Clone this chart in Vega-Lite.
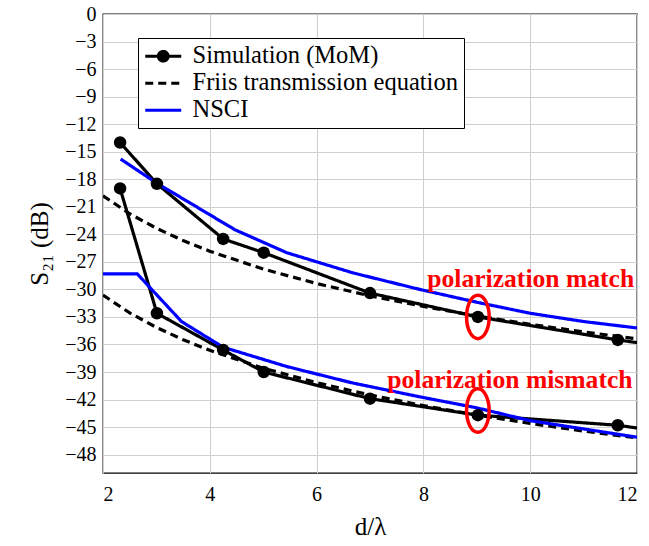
{
  "$schema": "https://vega.github.io/schema/vega-lite/v6.json",
  "width": 534,
  "height": 459,
  "autosize": {"type": "none"},
  "padding": {"left": 103, "top": 14, "right": 12, "bottom": 73},
  "background": "white",
  "config": {
    "view": {"stroke": "black", "strokeWidth": 1.3},
    "font": "Liberation Serif",
    "axis": {
      "grid": true, "gridColor": "#cfcfcf", "gridWidth": 1,
      "domain": false, "ticks": false, "labelOverlap": false,
      "labelFont": "Liberation Serif", "labelFontSize": 20, "labelColor": "black",
      "titleFont": "Liberation Serif", "titleFontWeight": "normal", "titleFontSize": 25, "titleColor": "black"
    },
    "legend": {
      "strokeColor": "black", "fillColor": "white", "padding": 6,
      "labelFont": "Liberation Serif", "labelFontSize": 24.5, "labelColor": "black", "labelLimit": 0,
      "labelOffset": 17, "symbolOffset": 7, "symbolSize": 324, "symbolStrokeWidth": 3.2, "rowPadding": 2,
      "cornerRadius": 0
    }
  },
  "datasets": {
    "lines": [
      {"series": "Simulation (MoM)", "group": "match", "d": 2.32, "s21": -14.0, "marker": true},
      {"series": "Simulation (MoM)", "group": "match", "d": 3.01, "s21": -18.5, "marker": true},
      {"series": "Simulation (MoM)", "group": "match", "d": 4.25, "s21": -24.5, "marker": true},
      {"series": "Simulation (MoM)", "group": "match", "d": 5.01, "s21": -26.0, "marker": true},
      {"series": "Simulation (MoM)", "group": "match", "d": 7.0, "s21": -30.4, "marker": true},
      {"series": "Simulation (MoM)", "group": "match", "d": 9.02, "s21": -33.0, "marker": true},
      {"series": "Simulation (MoM)", "group": "match", "d": 11.64, "s21": -35.5, "marker": true},
      {"series": "Simulation (MoM)", "group": "match", "d": 12.0, "s21": -35.8, "marker": false},
      {"series": "Simulation (MoM)", "group": "mismatch", "d": 2.32, "s21": -19.0, "marker": true},
      {"series": "Simulation (MoM)", "group": "mismatch", "d": 3.01, "s21": -32.6, "marker": true},
      {"series": "Simulation (MoM)", "group": "mismatch", "d": 4.25, "s21": -36.6, "marker": true},
      {"series": "Simulation (MoM)", "group": "mismatch", "d": 5.01, "s21": -39.0, "marker": true},
      {"series": "Simulation (MoM)", "group": "mismatch", "d": 7.0, "s21": -41.9, "marker": true},
      {"series": "Simulation (MoM)", "group": "mismatch", "d": 9.02, "s21": -43.7, "marker": true},
      {"series": "Simulation (MoM)", "group": "mismatch", "d": 11.64, "s21": -44.8, "marker": true},
      {"series": "Simulation (MoM)", "group": "mismatch", "d": 12.0, "s21": -45.1, "marker": false},
      {"series": "Friis transmission equation", "group": "match", "d": 2.0, "s21": -19.8, "marker": false},
      {"series": "Friis transmission equation", "group": "match", "d": 2.5, "s21": -21.76, "marker": false},
      {"series": "Friis transmission equation", "group": "match", "d": 3.0, "s21": -23.34, "marker": false},
      {"series": "Friis transmission equation", "group": "match", "d": 3.5, "s21": -24.68, "marker": false},
      {"series": "Friis transmission equation", "group": "match", "d": 4.0, "s21": -25.84, "marker": false},
      {"series": "Friis transmission equation", "group": "match", "d": 5.0, "s21": -27.78, "marker": false},
      {"series": "Friis transmission equation", "group": "match", "d": 6.0, "s21": -29.36, "marker": false},
      {"series": "Friis transmission equation", "group": "match", "d": 7.0, "s21": -30.7, "marker": false},
      {"series": "Friis transmission equation", "group": "match", "d": 8.0, "s21": -31.86, "marker": false},
      {"series": "Friis transmission equation", "group": "match", "d": 9.0, "s21": -32.88, "marker": false},
      {"series": "Friis transmission equation", "group": "match", "d": 10.0, "s21": -33.8, "marker": false},
      {"series": "Friis transmission equation", "group": "match", "d": 11.0, "s21": -34.63, "marker": false},
      {"series": "Friis transmission equation", "group": "match", "d": 12.0, "s21": -35.38, "marker": false},
      {"series": "Friis transmission equation", "group": "mismatch", "d": 2.0, "s21": -30.62, "marker": false},
      {"series": "Friis transmission equation", "group": "mismatch", "d": 2.5, "s21": -32.56, "marker": false},
      {"series": "Friis transmission equation", "group": "mismatch", "d": 3.0, "s21": -34.14, "marker": false},
      {"series": "Friis transmission equation", "group": "mismatch", "d": 3.5, "s21": -35.48, "marker": false},
      {"series": "Friis transmission equation", "group": "mismatch", "d": 4.0, "s21": -36.64, "marker": false},
      {"series": "Friis transmission equation", "group": "mismatch", "d": 5.0, "s21": -38.58, "marker": false},
      {"series": "Friis transmission equation", "group": "mismatch", "d": 6.0, "s21": -40.16, "marker": false},
      {"series": "Friis transmission equation", "group": "mismatch", "d": 7.0, "s21": -41.5, "marker": false},
      {"series": "Friis transmission equation", "group": "mismatch", "d": 8.0, "s21": -42.66, "marker": false},
      {"series": "Friis transmission equation", "group": "mismatch", "d": 9.0, "s21": -43.68, "marker": false},
      {"series": "Friis transmission equation", "group": "mismatch", "d": 10.0, "s21": -44.6, "marker": false},
      {"series": "Friis transmission equation", "group": "mismatch", "d": 11.0, "s21": -45.43, "marker": false},
      {"series": "Friis transmission equation", "group": "mismatch", "d": 12.0, "s21": -46.18, "marker": false},
      {"series": "NSCI", "group": "match", "d": 2.33, "s21": -15.8, "marker": false},
      {"series": "NSCI", "group": "match", "d": 3.0, "s21": -18.4, "marker": false},
      {"series": "NSCI", "group": "match", "d": 4.47, "s21": -23.5, "marker": false},
      {"series": "NSCI", "group": "match", "d": 5.44, "s21": -26.0, "marker": false},
      {"series": "NSCI", "group": "match", "d": 6.68, "s21": -28.2, "marker": false},
      {"series": "NSCI", "group": "match", "d": 7.93, "s21": -30.0, "marker": false},
      {"series": "NSCI", "group": "match", "d": 9.0, "s21": -31.4, "marker": false},
      {"series": "NSCI", "group": "match", "d": 10.0, "s21": -32.6, "marker": false},
      {"series": "NSCI", "group": "match", "d": 11.0, "s21": -33.5, "marker": false},
      {"series": "NSCI", "group": "match", "d": 12.0, "s21": -34.2, "marker": false},
      {"series": "NSCI", "group": "mismatch", "d": 2.0, "s21": -28.3, "marker": false},
      {"series": "NSCI", "group": "mismatch", "d": 2.64, "s21": -28.3, "marker": false},
      {"series": "NSCI", "group": "mismatch", "d": 3.47, "s21": -33.5, "marker": false},
      {"series": "NSCI", "group": "mismatch", "d": 4.25, "s21": -36.3, "marker": false},
      {"series": "NSCI", "group": "mismatch", "d": 5.44, "s21": -38.4, "marker": false},
      {"series": "NSCI", "group": "mismatch", "d": 6.68, "s21": -40.2, "marker": false},
      {"series": "NSCI", "group": "mismatch", "d": 7.93, "s21": -41.7, "marker": false},
      {"series": "NSCI", "group": "mismatch", "d": 9.0, "s21": -42.9, "marker": false},
      {"series": "NSCI", "group": "mismatch", "d": 10.0, "s21": -44.3, "marker": false},
      {"series": "NSCI", "group": "mismatch", "d": 11.0, "s21": -45.2, "marker": false},
      {"series": "NSCI", "group": "mismatch", "d": 12.0, "s21": -46.1, "marker": false}
    ],
    "notes": [
      {"label": "polarization match", "d": 10.01, "s21": -29.7, "ed": 9.02, "es": -33.0},
      {"label": "polarization mismatch", "d": 9.62, "s21": -40.7, "ed": 9.02, "es": -43.2}
    ]
  },
  "layer": [
    {
      "data": {"name": "lines"},
      "mark": {"type": "line", "strokeWidth": 3.2, "clip": true},
      "encoding": {
        "x": {
          "field": "d", "type": "quantitative",
          "scale": {"domain": [2, 12], "nice": false, "zero": false},
          "axis": {"values": [2, 4, 6, 8, 10, 12], "format": "d", "title": "d/λ", "labelPadding": 11, "titlePadding": 10}
        },
        "y": {
          "field": "s21", "type": "quantitative",
          "scale": {"domain": [-50, 0], "nice": false, "zero": false},
          "axis": {"values": [0, -3, -6, -9, -12, -15, -18, -21, -24, -27, -30, -33, -36, -39, -42, -45, -48], "tickCount": 40, "format": "d", "title": "S₂₁ (dB)", "labelPadding": 7, "titlePadding": 12}
        },
        "color": {
          "field": "series", "type": "nominal",
          "scale": {"domain": ["Simulation (MoM)", "Friis transmission equation", "NSCI"], "range": ["black", "black", "#0000ff"]},
          "legend": {
            "title": null, "orient": "none", "legendX": 35, "legendY": 24, "labelLimit": 0,
            "encode": {"symbols": {"update": {
              "shape": {"signal": "datum.value === 'Simulation (MoM)' ? 'M -2,0 L 2,0 M 0.53,0 C 0.53,0.293 0.293,0.53 0,0.53 C -0.293,0.53 -0.53,0.293 -0.53,0 C -0.53,-0.293 -0.293,-0.53 0,-0.53 C 0.293,-0.53 0.53,-0.293 0.53,0 Z' : 'M -2,0 L 2,0'"},
              "fill": {"value": "black"}
            }}}
          }
        },
        "strokeDash": {
          "field": "series", "type": "nominal",
          "scale": {"domain": ["Simulation (MoM)", "Friis transmission equation", "NSCI"], "range": [[1, 0], [8, 5], [1, 0]]},
          "legend": {
            "title": null, "orient": "none", "legendX": 35, "legendY": 24, "labelLimit": 0,
            "encode": {"symbols": {"update": {
              "shape": {"signal": "datum.value === 'Simulation (MoM)' ? 'M -2,0 L 2,0 M 0.53,0 C 0.53,0.293 0.293,0.53 0,0.53 C -0.293,0.53 -0.53,0.293 -0.53,0 C -0.53,-0.293 -0.293,-0.53 0,-0.53 C 0.293,-0.53 0.53,-0.293 0.53,0 Z' : 'M -2,0 L 2,0'"},
              "fill": {"value": "black"}
            }}}
          }
        },
        "detail": {"field": "group", "type": "nominal"}
      }
    },
    {
      "data": {"name": "lines"},
      "transform": [{"filter": "datum.marker"}],
      "mark": {"type": "point", "filled": true, "color": "black", "size": 156, "opacity": 1, "shape": "circle"},
      "encoding": {
        "x": {"field": "d", "type": "quantitative"},
        "y": {"field": "s21", "type": "quantitative"}
      }
    },
    {
      "data": {"name": "notes"},
      "mark": {
        "type": "point", "filled": false, "stroke": "#ff0000", "strokeWidth": 3.5, "opacity": 1, "size": 1892,
        "shape": "M 0.52,0 C 0.52,0.552 0.287,1 0,1 C -0.287,1 -0.52,0.552 -0.52,0 C -0.52,-0.552 -0.287,-1 0,-1 C 0.287,-1 0.52,-0.552 0.52,0 Z"
      },
      "encoding": {
        "x": {"field": "ed", "type": "quantitative"},
        "y": {"field": "es", "type": "quantitative"}
      }
    },
    {
      "data": {"name": "notes"},
      "mark": {"type": "text", "font": "Liberation Serif", "fontWeight": "bold", "fontSize": 25.6, "color": "#ff0000", "align": "center", "baseline": "alphabetic"},
      "encoding": {
        "x": {"field": "d", "type": "quantitative"},
        "y": {"field": "s21", "type": "quantitative"},
        "text": {"field": "label", "type": "nominal"}
      }
    }
  ]
}
